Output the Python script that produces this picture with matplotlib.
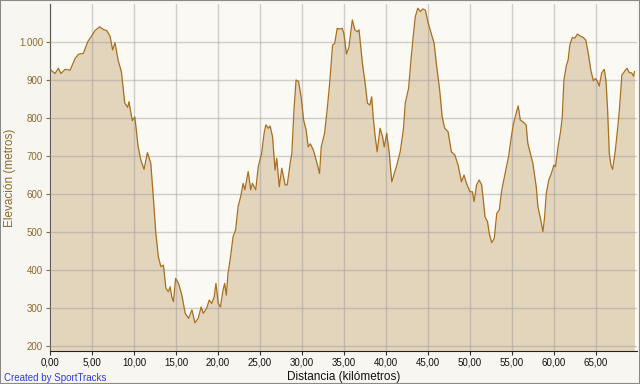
import matplotlib
matplotlib.use("Agg")
import matplotlib.pyplot as plt
from matplotlib.patches import Rectangle

distancia_km = [0.12, 0.6, 1.0, 1.3, 1.8, 2.4, 3.0, 3.4, 3.97, 4.5, 4.96, 5.36, 5.9, 6.35, 6.75,
                7.14, 7.46, 7.74, 8.1, 8.5, 8.9, 9.25, 9.4, 9.8, 10.1, 10.5, 10.8, 11.2, 11.6, 12.0,
                12.3, 12.6, 12.9, 13.2, 13.5, 13.8, 14.1, 14.3, 14.5, 14.7, 14.96, 15.3, 15.7, 16.1,
                16.5, 16.9, 17.26, 17.65, 18.0, 18.25, 18.65, 18.96, 19.25, 19.56, 19.76, 20.04,
                20.3, 20.6, 20.8, 21.0, 21.2, 21.5, 21.8, 22.1, 22.4, 22.7, 23.0, 23.2, 23.6, 23.9,
                24.1, 24.5, 24.8, 25.2, 25.5, 25.7, 26.0, 26.2, 26.5, 26.8, 27.0, 27.3, 27.6, 28.0,
                28.25, 28.6, 28.8, 29.05, 29.3, 29.6, 29.9, 30.2, 30.5, 30.75, 31.0, 31.35, 31.7,
                32.1, 32.3, 32.7, 33.0, 33.3, 33.65, 33.9, 34.2, 34.5, 34.8, 35.0, 35.3, 35.6, 35.8,
                36.0, 36.3, 36.6, 36.8, 36.9, 37.2, 37.5, 37.8, 38.1, 38.3, 38.5, 38.7, 38.96, 39.3,
                39.6, 39.8, 40.1, 40.4, 40.7, 41.0, 41.3, 41.7, 42.1, 42.3, 42.7, 43.0, 43.25, 43.5,
                43.8, 44.1, 44.4, 44.7, 45.0, 45.4, 45.75, 46.0, 46.4, 46.7, 47.0, 47.4, 47.8, 48.2,
                48.6, 49.0, 49.3, 49.6, 50.0, 50.3, 50.5, 50.8, 51.1, 51.4, 51.6, 51.8, 52.1, 52.3,
                52.6, 52.9, 53.2, 53.5, 53.8, 54.2, 54.6, 55.0, 55.2, 55.5, 55.75, 56.0, 56.3, 56.7,
                56.9, 57.2, 57.5, 57.9, 58.1, 58.4, 58.7, 58.9, 59.1, 59.4, 59.7, 60.0, 60.2, 60.5,
                60.8, 61.0, 61.2, 61.5, 61.7, 61.9, 62.2, 62.5, 62.8, 63.1, 63.5, 63.8, 64.1, 64.4,
                64.7, 64.96, 65.2, 65.4, 65.7, 66.0, 66.2, 66.4, 66.6, 66.8, 67.0, 67.3, 67.6, 67.8,
                68.1, 68.4, 68.7, 69.0, 69.25, 69.5, 69.6]
elevacion_m = [926, 917, 931, 917, 928, 926, 957, 968, 970, 1001, 1016, 1030, 1040, 1033, 1030,
               1016, 979, 998, 953, 922, 839, 828, 843, 793, 803, 724, 691, 665, 709, 681,
               593, 497, 435, 409, 413, 352, 343, 356, 330, 317, 378, 365, 334, 286,
               273, 295, 261, 273, 303, 286, 299, 321, 312, 330, 365, 312,
               303, 347, 365, 334, 391, 435, 488, 505, 567, 593, 628, 611, 659, 611,
               628, 611, 672, 707, 760, 782, 773, 779, 751, 663, 694, 619, 668, 624,
               624, 681, 707, 821, 900, 896, 856, 795, 768, 724, 732, 716, 689,
               654, 724, 760, 821, 891, 992, 996, 1036, 1034, 1036, 1022, 968, 987, 1022,
               1058, 1032, 1027, 1032, 1010, 944, 896, 839, 834, 856, 799, 755, 711, 773,
               751, 724, 760, 707, 632, 654, 676, 711, 773, 839, 878, 957, 1014, 1067,
               1089, 1080, 1087, 1084, 1053, 1022, 996, 944, 874, 803, 773, 764, 711, 703,
               676, 632, 650, 628, 606, 606, 580, 624, 637, 624, 584, 540, 527, 497,
               472, 483, 549, 558, 611, 654, 698, 760, 786, 812, 832, 795, 790, 782,
               733, 707, 681, 619, 567, 536, 501, 540, 602, 637, 654, 676, 672, 724,
               764, 803, 900, 939, 953, 992, 1012, 1010, 1021, 1016, 1012, 1005, 970, 926,
               898, 904, 896, 884, 919, 928, 900, 821, 707, 676, 665, 711, 773, 821,
               913, 922, 931, 919, 919, 910, 922]

yticks = [200, 300, 400, 500, 600, 700, 800, 900, 1000]
ytick_labels = ["200", "300", "400", "500", "600", "700", "800", "900", "1.000"]
xticks = [0, 5, 10, 15, 20, 25, 30, 35, 40, 45, 50, 55, 60, 65]
xtick_labels = ["0,00", "5,00", "10,00", "15,00", "20,00", "25,00", "30,00", "35,00",
                "40,00", "45,00", "50,00", "55,00", "60,00", "65,00"]

plt.rcParams['font.family'] = ['Liberation Sans', 'DejaVu Sans']
fig = plt.figure(figsize=(6.4, 3.84), dpi=100, facecolor="#F8F6F0")
ax = fig.add_axes([50/640, 33/384, 587/640, 347/384])
ax.set_facecolor("#FBF9F4")

ymin = 187
ax.fill_between(distancia_km, elevacion_m, ymin, color="#E3D4BC", zorder=1, linewidth=0)
ax.plot(distancia_km, elevacion_m, color="#A8701F", linewidth=0.9, zorder=3)

ax.set_xlim(0, 69.9)
ax.set_ylim(ymin, 1100)
ax.set_xticks(xticks)
ax.set_xticklabels(xtick_labels, fontsize=7, color="#111111")
ax.set_yticks(yticks)
ax.set_yticklabels(ytick_labels, fontsize=7, color="#8B6A2E")
ax.tick_params(axis="x", length=3, width=0.8, color="#333333", pad=2)
ax.tick_params(axis="y", length=3, width=0.8, color="#8B6A2E", pad=2)
ax.grid(True, color="#9A9A9A", alpha=0.45, linewidth=1.0, zorder=2)
ax.set_axisbelow(False)

for side in ["top", "right"]:
    ax.spines[side].set_visible(False)
ax.spines["left"].set_color("#222222")
ax.spines["bottom"].set_color("#222222")

ax.set_xlabel("Distancia (kilómetros)", fontsize=8.5, color="#111111", labelpad=2)
ax.set_ylabel("Elevación (metros)", fontsize=8.5, color="#8B6A2E")
ax.yaxis.set_label_coords(-0.058, 0.5)

fig.text(4/640, 1 - 378/384, "Created by SportTracks", fontsize=7, color="#2E3FD8",
         ha="left", va="center")

fig.patches.append(Rectangle((0, 0), 1, 1, transform=fig.transFigure, fill=False,
                             edgecolor="#8A8A8A", linewidth=1.5))

fig.savefig("out.png", dpi=100, facecolor=fig.get_facecolor())
